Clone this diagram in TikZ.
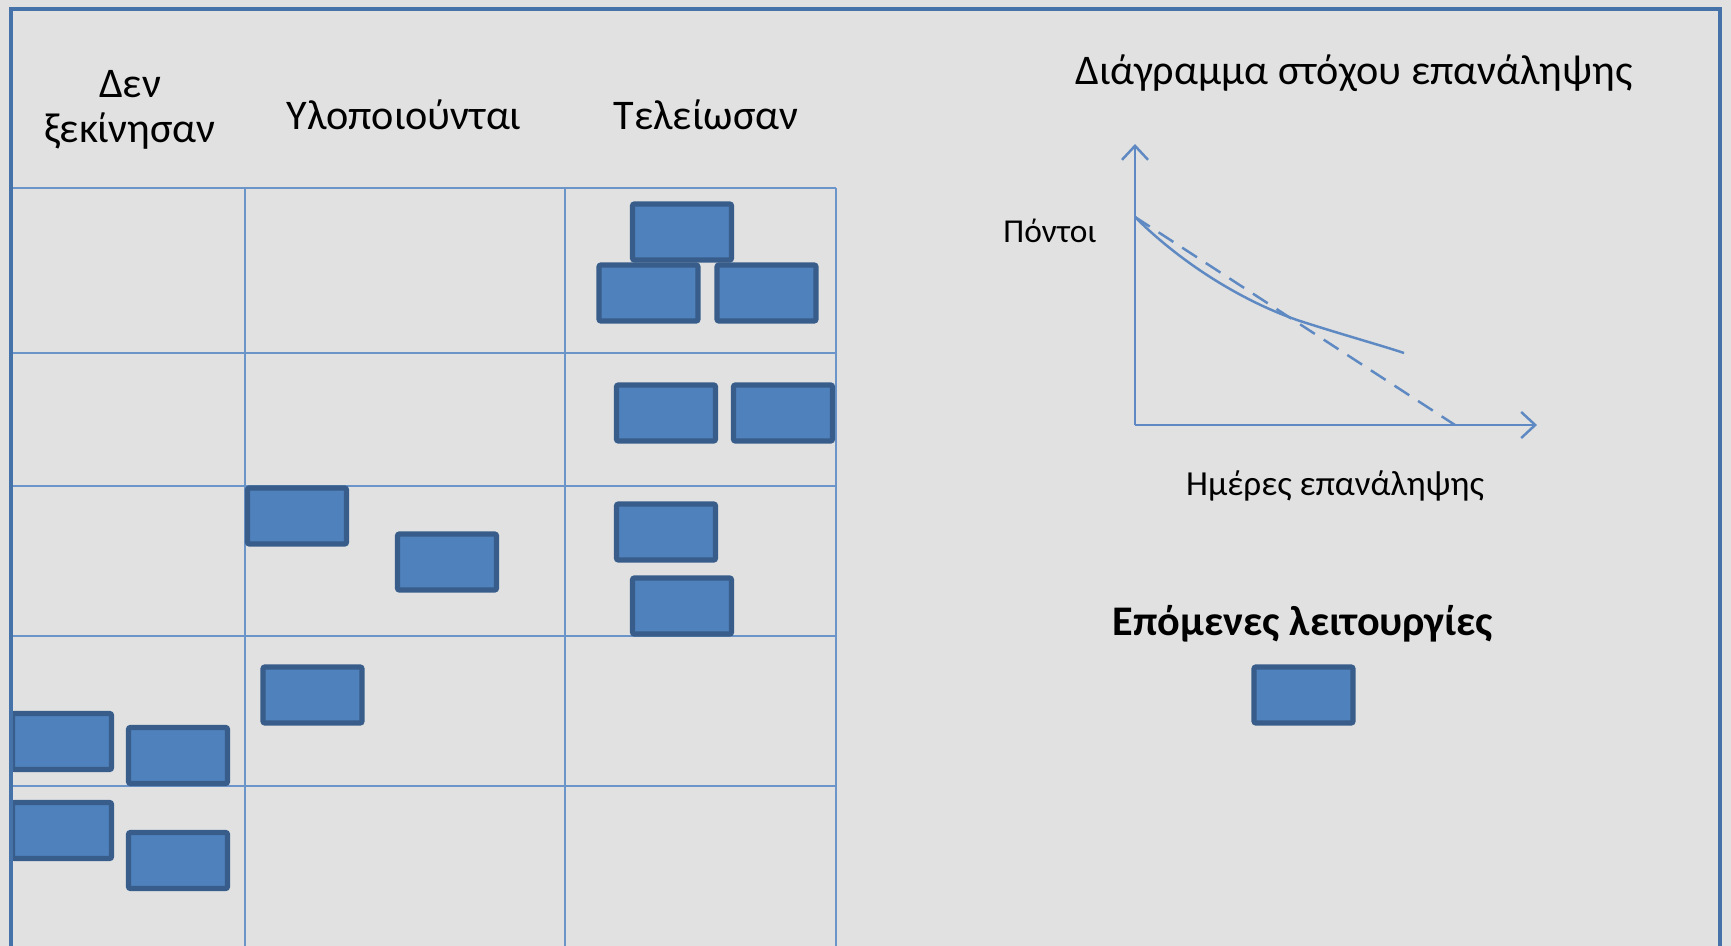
\documentclass[tikz,border=0pt]{standalone}
\usepackage{fontspec}
\setmainfont{Carlito}
\usetikzlibrary{arrows.meta}
\definecolor{bg}{HTML}{E1E1E1}
\definecolor{frameblue}{HTML}{4672AA}
\definecolor{gridblue}{HTML}{6B94C9}
\definecolor{cardfill}{HTML}{4F81BD}
\definecolor{carddraw}{HTML}{385D8A}
\definecolor{chartblue}{HTML}{5E89C2}
\begin{document}
\begin{tikzpicture}[x=0.01cm,y=-0.01cm,
  card/.style={draw=carddraw, fill=cardfill, line width=1.5pt, rounded corners=0.6pt,
    minimum width=0.99cm, minimum height=0.56cm, inner sep=0pt, outer sep=0pt},
  gridline/.style={draw=gridblue, line width=0.6pt},
  hdr/.style={font=\fontsize{12}{13}\selectfont, align=center, inner sep=0pt},
  axis/.style={draw=chartblue, line width=0.7pt, -{Straight Barb[length=1.4mm,width=2.6mm]}},
  curveline/.style={draw=chartblue, line width=0.7pt}
]
\useasboundingbox (0,0) rectangle (1731,946);
\clip (0,0) rectangle (1731,946);
\fill[bg] (0,0) rectangle (1731,946);

% grid
\draw[gridline] (11,188) -- (836,188);
\draw[gridline] (11,353) -- (836,353);
\draw[gridline] (11,486) -- (836,486);
\draw[gridline] (11,636) -- (836,636);
\draw[gridline] (11,786) -- (836,786);
\draw[gridline] (245,188) -- (245,960);
\draw[gridline] (565,188) -- (565,960);
\draw[gridline] (836,188) -- (836,960);

% headers
\node[hdr] (h1) at (130,110) {Δεν\\ξεκίνησαν};
\node[hdr] (h2) at (404,115) {Υλοποιούνται};
\node[hdr] (h3) at (706,115) {Τελείωσαν};

% cards column 3
\node[card] (t1) at (682,232) {};
\node[card] (t2) at (648.5,293) {};
\node[card] (t3) at (766.5,293) {};
\node[card] (t4) at (666,413) {};
\node[card] (t5) at (783,413) {};
\node[card] (t6) at (666,532) {};
\node[card] (t7) at (682,606) {};
% column 2
\node[card] (p1) at (297,516) {};
\node[card] (p2) at (447,562) {};
\node[card] (p3) at (312.5,695) {};
% column 1
\node[card] (n1) at (62,741.5) {};
\node[card] (n2) at (178,755.5) {};
\node[card] (n3) at (62,830.5) {};
\node[card] (n4) at (178,860.5) {};

% frame
\draw[frameblue, line width=1.4pt] (11,980) -- (11,9) -- (1720,9) -- (1720,980);

% chart
\node[hdr] (title) at (1354,73) {Διάγραμμα στόχου επανάληψης};
\coordinate (org) at (1135,425);
\coordinate (ytop) at (1135,144);
\coordinate (xend) at (1537,425);
\coordinate (start) at (1135,217);
\coordinate (zero) at (1455,425);
\draw[axis] (org) -- (ytop);
\draw[axis] (org) -- (xend);
\draw[curveline, dash pattern=on 5pt off 3pt] (start) -- (zero);
\draw[curveline] (start) .. controls (1180,262) and (1240,300) .. (1297,320)
   .. controls (1340,334) and (1380,345) .. (1404,353);
\node[inner sep=0pt, font=\fontsize{9.5}{11}\selectfont] (ylab) at (1050,231) {Πόντοι};
\node[inner sep=0pt, font=\fontsize{10}{12}\selectfont] (xlab) at (1335,486) {Ημέρες επανάληψης};

% legend
\node[hdr, font=\fontsize{12}{13}\selectfont\bfseries] (ltitle) at (1303,624) {Επόμενες λειτουργίες};
\node[card] (leg) at (1303.5,695) {};
\end{tikzpicture}
\end{document}
